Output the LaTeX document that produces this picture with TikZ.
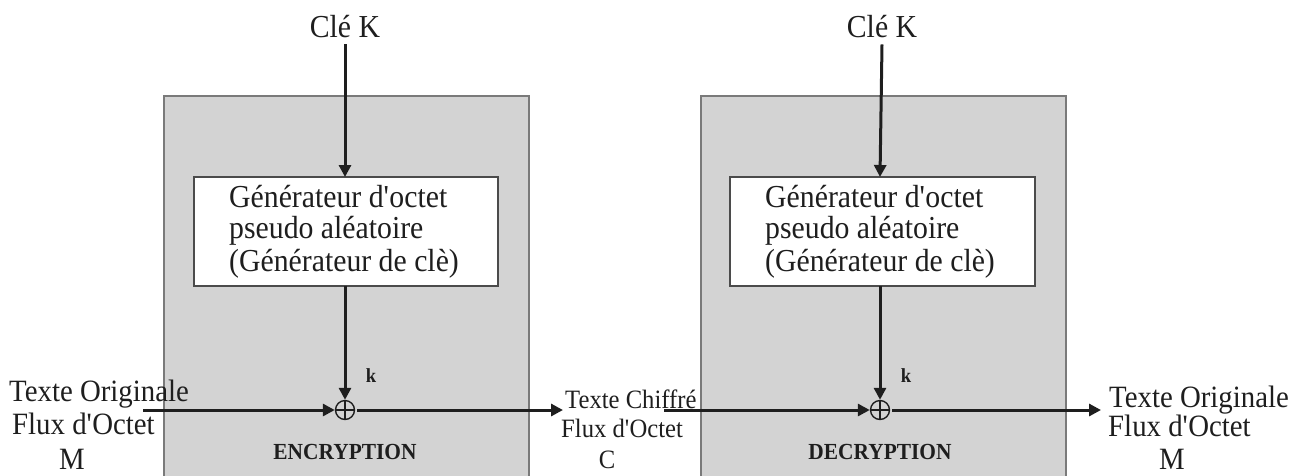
\documentclass[tikz,border=0pt]{standalone}
\usepackage{fontspec}
\setmainfont{Liberation Serif}[FakeStretch=0.93]
\usetikzlibrary{arrows.meta}
\definecolor{boxgray}{HTML}{D3D3D3}
\definecolor{edgegray}{HTML}{7A7A7A}
\definecolor{ink}{HTML}{1E1E1E}
\newcommand{\apo}{\textquotesingle}
\begin{document}
\begin{tikzpicture}[x=1pt,y=-1pt,
  every node/.style={inner sep=0pt, text=ink},
  txt/.style={font=\fontsize{32}{34}\selectfont},
  lbl/.style={font=\fontsize{31}{32}\selectfont},
  midlbl/.style={font=\fontsize{26.5}{30}\selectfont},
  panel/.style={draw=edgegray, line width=2pt, fill=boxgray},
  genbox/.style={draw=ink!80, line width=2pt, fill=white},
  flow/.style={draw=ink, line width=3pt, -{Triangle[length=12pt,width=12pt]}},
  xorop/.style={circle, draw=ink, line width=1.4pt, minimum size=19pt,
    path picture={\draw[ink, line width=1.4pt]
      (path picture bounding box.north) -- (path picture bounding box.south)
      (path picture bounding box.west) -- (path picture bounding box.east);}},
  tag/.style={font=\bfseries\fontsize{23}{24}\selectfont},
  klbl/.style={font=\bfseries\fontsize{20}{22}\selectfont}
]
\useasboundingbox (0,0) rectangle (1305,475);

% panels
\draw[panel] (164,96) rectangle (529,478);
\draw[panel] (701,96) rectangle (1066,478);

% generator boxes
\draw[genbox] (194,177) rectangle (498,286);
\draw[genbox] (730,177) rectangle (1035,286);
\coordinate (g1top) at (345,177);
\coordinate (g1bot) at (345,286);
\coordinate (g2top) at (880,177);
\coordinate (g2bot) at (880,286);

\node[txt, anchor=west] (g1a) at (229,197) {Générateur d\apo octet};
\node[txt, anchor=west] (g1b) at (229,231) {pseudo aléatoire};
\node[txt, anchor=west] (g1c) at (229,264) {(Générateur de clè)};
\node[txt, anchor=west] (g2a) at (765,197) {Générateur d\apo octet};
\node[txt, anchor=west] (g2b) at (765,231) {pseudo aléatoire};
\node[txt, anchor=west] (g2c) at (765,264) {(Générateur de clè)};

% keys
\node[txt] (k1) at (345,27) {Clé K};
\node[txt] (k2) at (882,27) {Clé K};

% xor operators
\node[xorop] (x1) at (345,410) {};
\node[xorop] (x2) at (880,410) {};

\node[klbl] (kl1) at (371,376) {k};
\node[klbl] (kl2) at (906,376) {k};

\node[tag] (enc) at (345,452) {ENCRYPTION};
\node[tag] (dec) at (880,452) {DECRYPTION};

% side labels (left)
\node[lbl, anchor=base west] (m1a) at (9,401) {Texte Originale};
\node[lbl, anchor=base west] (m1b) at (12,434) {Flux d\apo Octet};
\node[lbl, anchor=base] (m1c) at (72,469) {M};
% middle
\node[midlbl, anchor=base west] (c1a) at (565,408) {Texte Chiffré};
\node[midlbl, anchor=base west] (c1b) at (561,437) {Flux d\apo Octet};
\node[midlbl, anchor=base] (c1c) at (607,468) {C};
% right
\node[lbl, anchor=base west] (m2a) at (1109,407) {Texte Originale};
\node[lbl, anchor=base west] (m2b) at (1108,436) {Flux d\apo Octet};
\node[lbl, anchor=base] (m2c) at (1172,469) {M};

\coordinate (in1) at (143,410);
\coordinate (out1) at (563,410);
\coordinate (in2) at (664,410);
\coordinate (out2) at (1101,410);

% connectors
\draw[flow] (k1.south) ++(0,6) -- (g1top);
\draw[flow] (k2.south) ++(0,6) -- (g2top);
\draw[flow] (g1bot) -- (x1.north);
\draw[flow] (g2bot) -- (x2.north);
\draw[flow] (in1) -- (x1.west);
\draw[flow] (x1.east) ++(2,0) -- (out1);
\draw[flow] (in2) -- (x2.west);
\draw[flow] (x2.east) ++(2,0) -- (out2);
\end{tikzpicture}
\end{document}
